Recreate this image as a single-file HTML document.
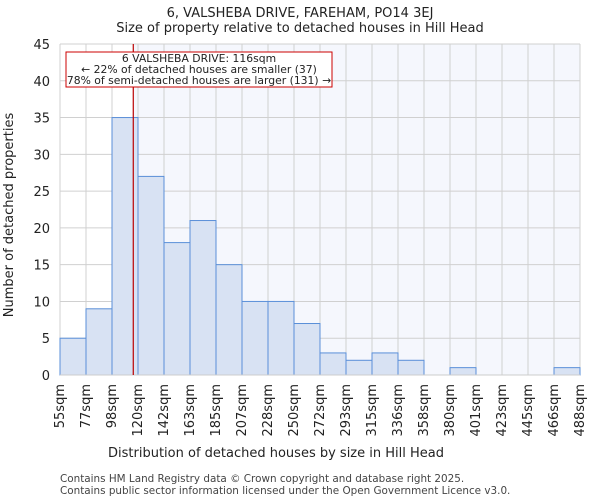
<!DOCTYPE html>
<html><head><meta charset="utf-8"><style>
body{margin:0;background:#fff;font-family:"DejaVu Sans","Liberation Sans",sans-serif;}
</style></head><body>
<svg width="600" height="500" xmlns="http://www.w3.org/2000/svg" font-family="DejaVu Sans, Liberation Sans, sans-serif">
<text x="300" y="17" text-anchor="middle" font-size="13" fill="#222">6, VALSHEBA DRIVE, FAREHAM, PO14 3EJ</text>
<text x="300" y="32" text-anchor="middle" font-size="13" fill="#222">Size of property relative to detached houses in Hill Head</text>
<g id="plot"></g>
<text x="276" y="457" text-anchor="middle" font-size="13" fill="#222">Distribution of detached houses by size in Hill Head</text>
<text transform="translate(13,215) rotate(-90)" text-anchor="middle" font-size="13" fill="#222">Number of detached properties</text>
<text x="60" y="482" font-size="10.4" fill="#444">Contains HM Land Registry data © Crown copyright and database right 2025.</text>
<text x="60" y="494" font-size="10.4" fill="#444">Contains public sector information licensed under the Open Government Licence v3.0.</text>
</svg>
<script>
const binEdges=[55,77,98,120,142,163,185,207,228,250,272,293,315,336,358,380,401,423,445,466,488];
const counts=[5,9,35,27,18,21,15,10,10,7,3,2,3,2,0,1,0,0,0,1];
const yTicks=[0,5,10,15,20,25,30,35,40,45];
const propertySize=116;
const NS="http://www.w3.org/2000/svg";
const g=document.getElementById('plot');
const L=60,R=580,T=44,B=375,n=counts.length;
const xIdx=i=>L+i*(R-L)/n;
const xVal=v=>{for(let i=0;i<n;i++){if(v<=binEdges[i+1])return xIdx(i)+(v-binEdges[i])/(binEdges[i+1]-binEdges[i])*(R-L)/n;}return R;};
const y=v=>B-v*(B-T)/45;
function mk(t,a){const e=document.createElementNS(NS,t);for(const k in a)e.setAttribute(k,a[k]);g.appendChild(e);return e;}
const mx=xVal(propertySize);
let e=mk('rect',{x:mx,y:T,width:R-mx,height:B-T,fill:'#f5f7fd'});


yTicks.forEach(t=>{
 let l=mk('line',{x1:L,x2:R,y1:y(t),y2:y(t),stroke:'#d0d0d0'});
 
 
 let tx=mk('text',{x:L-10,y:y(t)+5,'text-anchor':'end','font-size':'13',fill:'#222'});
 tx.textContent=t;
 
 
});
binEdges.forEach((b,i)=>{
 let l=mk('line',{x1:xIdx(i),x2:xIdx(i),y1:T,y2:B,stroke:'#d0d0d0'});
 
 
 let cx=xIdx(i)+4;
 let tx=mk('text',{transform:`translate(${cx},384) rotate(-90)`,'text-anchor':'end','font-size':'13',fill:'#222'});
 tx.textContent=b+'sqm';
 
 
});
counts.forEach((c,i)=>{
 if(c<=0)return;
 let r=mk('rect',{x:xIdx(i),y:y(c),width:(R-L)/n,height:B-y(c),fill:'#d8e2f3',stroke:'#5a8fd8','stroke-width':'1'});
 
 
});
e=mk('line',{x1:L,x2:R,y1:B,y2:B,stroke:'#ccc'});


e=mk('line',{x1:mx,x2:mx,y1:T,y2:B,stroke:'#b00','stroke-width':'1.2'});


e=mk('rect',{x:66,y:52,width:266,height:35,fill:'#fff',stroke:'#c00','stroke-width':'1'});


[['6 VALSHEBA DRIVE: 116sqm',62],['← 22% of detached houses are smaller (37)',73],['78% of semi-detached houses are larger (131) →',84]].forEach(([s,yy])=>{
 let t=mk('text',{x:199,y:yy,'text-anchor':'middle','font-size':'10.8',fill:'#222'});
 t.textContent=s;
 
 
});
</script>
</body></html>
